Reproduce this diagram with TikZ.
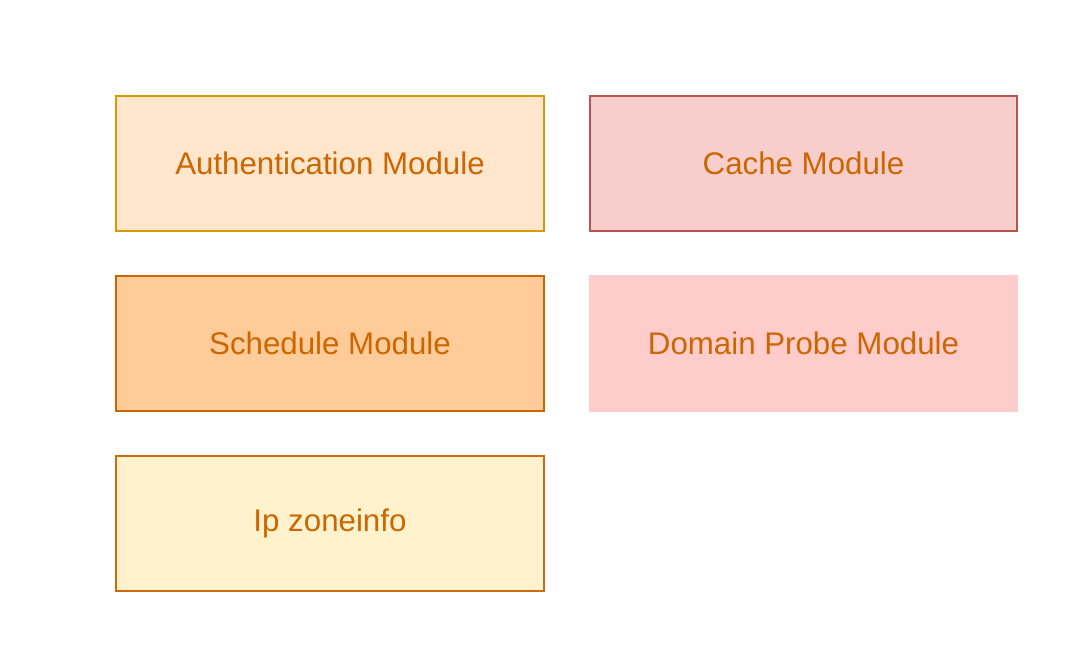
\documentclass[tikz,border=0pt]{standalone}
\usepackage{fontspec}
\setmainfont{Liberation Sans}
\usetikzlibrary{positioning}
\definecolor{modtext}{HTML}{CC6600}
\definecolor{authfill}{HTML}{FFE6CC}
\definecolor{authline}{HTML}{D79B00}
\definecolor{cachefill}{HTML}{F8CECC}
\definecolor{cacheline}{HTML}{B85450}
\definecolor{schedfill}{HTML}{FFCC99}
\definecolor{schedline}{HTML}{CC6600}
\definecolor{probefill}{HTML}{FFCCCC}
\definecolor{zonefill}{HTML}{FFF2CC}
\definecolor{zoneline}{HTML}{D06A10}

\begin{document}
\begin{tikzpicture}[x=0.02cm, y=-0.02cm,
    module/.style={rectangle, minimum width=8.56cm, minimum height=2.7cm, line width=1.1pt,
        text=modtext, font=\fontsize{17.8}{20}\selectfont, inner sep=0pt}]
    \useasboundingbox (0,0) rectangle (1080,672);

    % left column
    \node[module, draw=authline, fill=authfill] (auth) at (330,163.5) {\raisebox{-2pt}{Authentication Module}};
    \node[module, draw=schedline, fill=schedfill] (sched) at (330,343.5) {Schedule Module};
    \node[module, draw=zoneline, fill=zonefill] (zone) at (330,523.5) {\raisebox{-2pt}{Ip zoneinfo}};

    % right column
    \node[module, draw=cacheline, fill=cachefill] (cache) at (803.5,163.5) {Cache Module};
    \node[module, draw=probefill, fill=probefill] (probe) at (803.5,343.5) {Domain Probe Module};
\end{tikzpicture}
\end{document}
